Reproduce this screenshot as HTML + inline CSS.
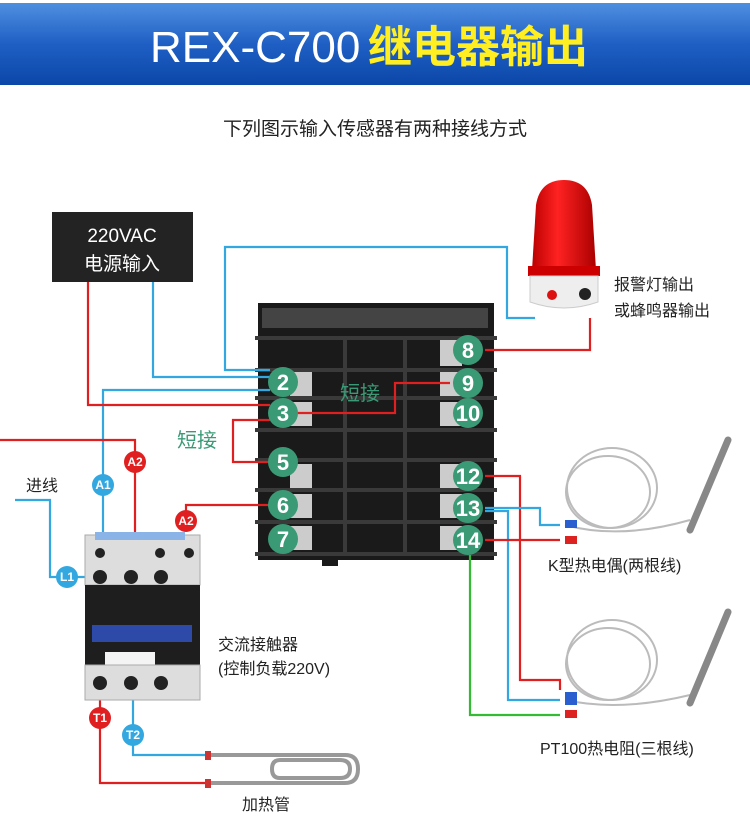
<!DOCTYPE html>
<html><head><meta charset="utf-8"><style>
html,body{margin:0;padding:0;background:#fff}
svg{display:block}
text{font-family:"Liberation Sans","Noto Sans CJK SC",sans-serif}
</style></head><body>
<svg width="750" height="834" viewBox="0 0 750 834" xmlns="http://www.w3.org/2000/svg">
<defs>
<linearGradient id="hd" x1="0" y1="0" x2="0" y2="1"><stop offset="0" stop-color="#4f8fe0"/><stop offset="0.5" stop-color="#1f5fc4"/><stop offset="1" stop-color="#0b47a8"/></linearGradient>
<linearGradient id="dome" x1="0" y1="0" x2="1" y2="0"><stop offset="0" stop-color="#b00"/><stop offset="0.4" stop-color="#f22"/><stop offset="1" stop-color="#a00"/></linearGradient>
</defs>
<rect x="0" y="3" width="750" height="82" fill="url(#hd)"/>
<text x="150" y="62" font-size="44" fill="#fff">REX-C700</text>
<text x="368" y="62" font-size="44" fill="#ffee22" font-weight="bold">继电器输出</text>
<text x="375" y="135" font-size="19" fill="#222" text-anchor="middle">下列图示输入传感器有两种接线方式</text>

<rect x="52" y="212" width="141" height="70" fill="#232323"/>
<text x="122" y="242" font-size="19" fill="#fff" text-anchor="middle">220VAC</text>
<text x="122" y="270" font-size="19" fill="#fff" text-anchor="middle">电源输入</text>

<path d="M532 270 L536 205 Q540 180 564 180 Q588 180 592 205 L596 270 Z" fill="url(#dome)"/>
<rect x="528" y="266" width="72" height="10" fill="#c00"/>
<path d="M530 276 L598 276 L598 302 Q564 314 530 302 Z" fill="#eee" stroke="#ccc"/>
<circle cx="552" cy="295" r="5" fill="#d11"/>
<circle cx="585" cy="294" r="6" fill="#222"/>
<text x="614" y="290" font-size="16" fill="#222">报警灯输出</text>
<text x="614" y="316" font-size="16" fill="#222">或蜂鸣器输出</text>

<rect x="258" y="303" width="236" height="257" fill="#1a1a1a"/>
<rect x="262" y="308" width="226" height="20" fill="#444"/>
<g stroke="#3a3a3a" stroke-width="4">
<line x1="255" y1="338" x2="497" y2="338"/><line x1="255" y1="370" x2="497" y2="370"/>
<line x1="255" y1="398" x2="497" y2="398"/><line x1="255" y1="430" x2="497" y2="430"/>
<line x1="255" y1="460" x2="497" y2="460"/><line x1="255" y1="490" x2="497" y2="490"/>
<line x1="255" y1="522" x2="497" y2="522"/><line x1="255" y1="554" x2="497" y2="554"/>
<line x1="345" y1="338" x2="345" y2="554"/><line x1="405" y1="338" x2="405" y2="554"/>
</g>
<g fill="#ccc">
<rect x="290" y="372" width="22" height="24"/><rect x="290" y="402" width="22" height="24"/>
<rect x="290" y="464" width="22" height="24"/><rect x="290" y="494" width="22" height="24"/>
<rect x="290" y="526" width="22" height="24"/>
<rect x="440" y="340" width="22" height="26"/><rect x="440" y="372" width="22" height="24"/>
<rect x="440" y="402" width="22" height="24"/><rect x="440" y="464" width="22" height="24"/>
<rect x="440" y="494" width="22" height="24"/><rect x="440" y="526" width="22" height="24"/>
</g>
<rect x="322" y="558" width="16" height="8" fill="#1a1a1a"/>

<g fill="none" stroke-width="2.2">
<path d="M270 370 H225 V247 H507 V318 H535" stroke="#33a8e0"/>
<path d="M153 282 V377 H270" stroke="#33a8e0"/>
<path d="M270 390 H103 V535" stroke="#33a8e0"/>
<path d="M88 282 V405 H270" stroke="#e02020"/>
<path d="M285 413 H395 V383 H450" stroke="#e02020"/>
<path d="M270 420 H233 V462 H270" stroke="#e02020"/>
<path d="M0 440 H135 V565" stroke="#e02020"/>
<path d="M270 505 H186 V521" stroke="#e02020"/>
<path d="M485 350 H590 V318" stroke="#e02020"/>
<path d="M485 476 H520 V680 H560 V690" stroke="#e02020"/>
<path d="M485 508 H540 V525 H560" stroke="#33a8e0"/>
<path d="M485 511 H508 V700 H560" stroke="#33a8e0"/>
<path d="M485 540 H560" stroke="#e02020"/>
<path d="M470 555 V715 H560" stroke="#33bb33"/>
<path d="M15 500 H50 V577 H90" stroke="#33a8e0"/>
<path d="M100 700 V783 H205" stroke="#e02020"/>
<path d="M133 700 V755 H205" stroke="#33a8e0"/>
</g>

<g fill="#3a9a76">
<circle cx="283" cy="382" r="15"/><circle cx="283" cy="413" r="15"/><circle cx="283" cy="462" r="15"/>
<circle cx="283" cy="505" r="15"/><circle cx="283" cy="539" r="15"/>
<circle cx="468" cy="350" r="15"/><circle cx="468" cy="383" r="15"/><circle cx="468" cy="413" r="15"/>
<circle cx="468" cy="476" r="15"/><circle cx="468" cy="508" r="15"/><circle cx="468" cy="540" r="15"/>
</g>
<g fill="#fff" font-size="22" text-anchor="middle" font-weight="bold">
<text x="283" y="390">2</text><text x="283" y="421">3</text><text x="283" y="470">5</text>
<text x="283" y="513">6</text><text x="283" y="547">7</text>
<text x="468" y="358">8</text><text x="468" y="391">9</text><text x="468" y="421">10</text>
<text x="468" y="484">12</text><text x="468" y="516">13</text><text x="468" y="548">14</text>
</g>
<text x="340" y="400" font-size="20" fill="#3a9a76">短接</text>
<text x="177" y="447" font-size="20" fill="#3a9a76">短接</text>

<rect x="85" y="535" width="115" height="50" fill="#ddd" stroke="#aaa"/>
<rect x="95" y="532" width="90" height="8" fill="#8ab4e8"/>
<rect x="85" y="585" width="115" height="80" fill="#1e1e1e"/>
<rect x="92" y="625" width="100" height="17" fill="#2d4aa8"/>
<rect x="105" y="652" width="50" height="13" fill="#f4f4f4"/>
<rect x="85" y="665" width="115" height="35" fill="#ddd" stroke="#aaa"/>
<g fill="#222"><circle cx="100" cy="577" r="7"/><circle cx="131" cy="577" r="7"/><circle cx="161" cy="577" r="7"/>
<circle cx="100" cy="683" r="7"/><circle cx="131" cy="683" r="7"/><circle cx="161" cy="683" r="7"/>
<circle cx="100" cy="553" r="5"/><circle cx="160" cy="553" r="5"/><circle cx="189" cy="553" r="5"/></g>
<text x="218" y="650" font-size="16" fill="#222">交流接触器</text>
<text x="218" y="674" font-size="16" fill="#222">(控制负载220V)</text>
<text x="26" y="491" font-size="16" fill="#222">进线</text>

<g font-size="12" fill="#fff" text-anchor="middle" font-weight="bold">
<circle cx="103" cy="485" r="11" fill="#33a8e0"/><text x="103" y="489">A1</text>
<circle cx="135" cy="462" r="11" fill="#e02020"/><text x="135" y="466">A2</text>
<circle cx="186" cy="521" r="11" fill="#e02020"/><text x="186" y="525">A2</text>
<circle cx="67" cy="577" r="11" fill="#33a8e0"/><text x="67" y="581">L1</text>
<circle cx="100" cy="718" r="11" fill="#e02020"/><text x="100" y="722">T1</text>
<circle cx="133" cy="735" r="11" fill="#33a8e0"/><text x="133" y="739">T2</text>
</g>

<path d="M210 755 H345 Q358 755 358 769 Q358 783 345 783 H210 M280 760 H340 Q350 760 350 769 Q350 778 340 778 H280 Q272 778 272 769 Q272 760 280 760" fill="none" stroke="#999" stroke-width="4"/>
<rect x="205" y="751" width="6" height="9" fill="#c33"/><rect x="205" y="779" width="6" height="9" fill="#c33"/>
<text x="242" y="810" font-size="16" fill="#222">加热管</text>

<g fill="none" stroke="#bbb" stroke-width="2">
<ellipse cx="612" cy="488" rx="45" ry="40"/><ellipse cx="608" cy="492" rx="42" ry="36"/>
<ellipse cx="612" cy="660" rx="45" ry="40"/><ellipse cx="608" cy="664" rx="42" ry="36"/>
<path d="M565 525 Q620 540 690 520"/><path d="M565 700 Q620 712 690 695"/>
</g>
<g stroke="#888" stroke-linecap="round">
<line x1="690" y1="530" x2="728" y2="440" stroke-width="7"/>
<line x1="690" y1="703" x2="728" y2="612" stroke-width="7"/>
</g>
<g fill="#2a5fd0"><rect x="565" y="520" width="12" height="8"/><rect x="565" y="692" width="12" height="8"/><rect x="565" y="697" width="12" height="8"/></g>
<g fill="#d22"><rect x="565" y="536" width="12" height="8"/><rect x="565" y="710" width="12" height="8"/></g>
<text x="548" y="571" font-size="16" fill="#222">K型热电偶(两根线)</text>
<text x="540" y="754" font-size="16" fill="#222">PT100热电阻(三根线)</text>
</svg>
</body></html>
